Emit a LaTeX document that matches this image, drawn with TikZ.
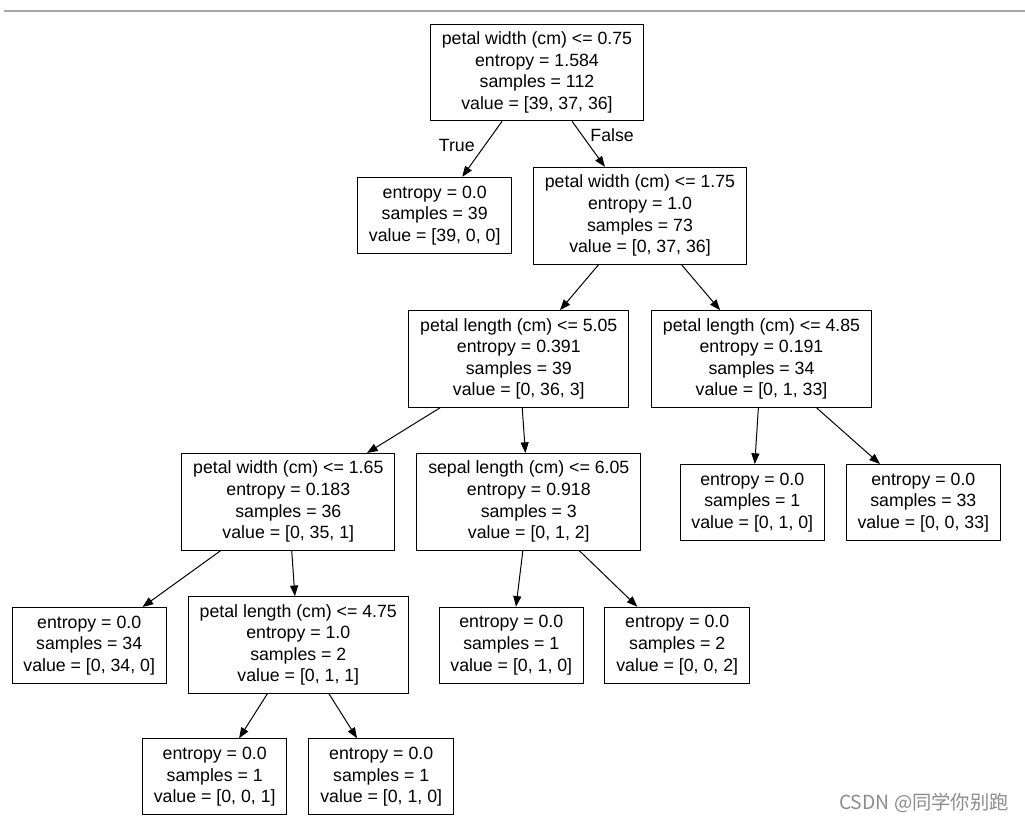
\documentclass[tikz,border=0pt]{standalone}
\usepackage{fontspec}
\setmainfont{Liberation Sans}
\newfontfamily\cjkfont{Noto Sans CJK SC}
\usetikzlibrary{arrows.meta,positioning}

\begin{document}
\begin{tikzpicture}[x=0.75pt,y=-0.75pt,>={Triangle[length=8pt,width=6pt]},line width=0.75pt,
    font=\fontsize{13.3}{16.2}\selectfont,
    splitbox/.style={draw,align=center,inner xsep=8.5pt,inner ysep=0pt,minimum height=72.5pt},
    leafbox/.style={splitbox,minimum height=57pt},
    branch/.style={inner sep=1pt}]

                \useasboundingbox (0,0) rectangle (1025,822);
                \draw[black!35,line width=1.2pt] (4,10.8) -- (1025,10.8);

                \node[splitbox] (n0) at (537,72.5) {petal width (cm) <= 0.75\\entropy = 1.584\\samples = 112\\value = [39, 37, 36]};

                \node[leafbox] (n1) at (434.7,215.3) {entropy = 0.0\\samples = 39\\value = [39, 0, 0]};
                \node[splitbox] (n2) at (640,215.7) {petal width (cm) <= 1.75\\entropy = 1.0\\samples = 73\\value = [0, 37, 36]};

                \node[splitbox] (n3) at (518.8,359) {petal length (cm) <= 5.05\\entropy = 0.391\\samples = 39\\value = [0, 36, 3]};
                \node[splitbox] (n4) at (761.5,359) {petal length (cm) <= 4.85\\entropy = 0.191\\samples = 34\\value = [0, 1, 33]};

                \node[splitbox] (n5) at (288.3,501.8) {petal width (cm) <= 1.65\\entropy = 0.183\\samples = 36\\value = [0, 35, 1]};
                \node[splitbox] (n6) at (528.8,501.8) {sepal length (cm) <= 6.05\\entropy = 0.918\\samples = 3\\value = [0, 1, 2]};
                \node[leafbox] (n7) at (752.3,502.5) {entropy = 0.0\\samples = 1\\value = [0, 1, 0]};
                \node[leafbox] (n8) at (923.3,502.5) {entropy = 0.0\\samples = 33\\value = [0, 0, 33]};

                \node[leafbox] (n9) at (89.2,645.5) {entropy = 0.0\\samples = 34\\value = [0, 34, 0]};
                \node[splitbox] (n10) at (298.3,645) {petal length (cm) <= 4.75\\entropy = 1.0\\samples = 2\\value = [0, 1, 1]};
                \node[leafbox] (n11) at (511.3,645.2) {entropy = 0.0\\samples = 1\\value = [0, 1, 0]};
                \node[leafbox] (n12) at (677.2,645.2) {entropy = 0.0\\samples = 2\\value = [0, 0, 2]};

                \node[leafbox] (n13) at (214.7,776.8) {entropy = 0.0\\samples = 1\\value = [0, 0, 1]};
                \node[leafbox] (n14) at (381.2,776.8) {entropy = 0.0\\samples = 1\\value = [0, 1, 0]};

                \path[->] (n0) edge node[branch,pos=0.44,left=6pt] {True} (n1);
                \path[->] (n0) edge node[branch,pos=0.3,right=5pt] {False} (n2);

                \foreach \from/\to in {n2/n3, n2/n4, n3/n5, n3/n6, n4/n7, n4/n8, n5/n9, n5/n10, n6/n11, n6/n12, n10/n13, n10/n14}
                    {
                    \path[->] (\from) edge (\to);
                    }

                \node[text=black!45,font=\cjkfont\fontsize{14.5}{16}\selectfont] (mark) at (924,802.5) {CSDN @同学你别跑};

            \end{tikzpicture}
\end{document}
